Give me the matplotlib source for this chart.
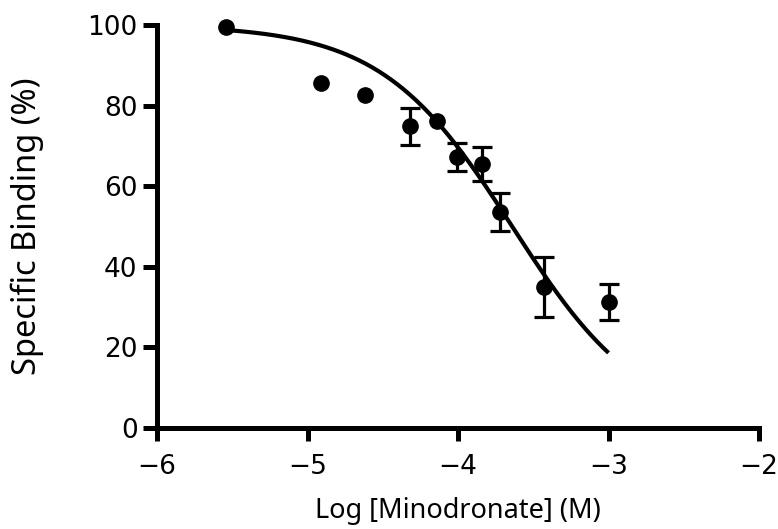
import numpy as np
import matplotlib
matplotlib.use("Agg")
import matplotlib.pyplot as plt

# Competition binding data: log concentration vs. specific binding
log_conc = [-5.54, -4.91, -4.62, -4.32, -4.14, -4.01, -3.84, -3.72, -3.43, -3.0]
binding = [99.5, 85.6, 82.6, 74.9, 76.2, 67.2, 65.5, 53.5, 35.0, 31.3]
sem = [0.0, 0.0, 0.0, 4.6, 0.0, 3.5, 4.2, 4.7, 7.5, 4.4]

# One-site competition fit parameters
fit_top = 100.0
fit_bottom = 0.0
fit_log_ic50 = -3.64
fit_hill = 1.0
fit_range = (-5.54, -3.0)

x_ticks = [-6, -5, -4, -3, -2]
x_tick_labels = ['\u22126', '\u22125', '\u22124', '\u22123', '\u22122']
y_ticks = [0, 20, 40, 60, 80, 100]

plt.rcParams['font.family'] = ['DejaVu Sans']
label_font = ['Noto Sans', 'DejaVu Sans']

fig = plt.figure(figsize=(7.78, 5.29), dpi=100)
ax = fig.add_axes([0.2018, 0.191, 0.7738, 0.7617])

xf = np.linspace(fit_range[0], fit_range[1], 300)
yf = fit_bottom + (fit_top - fit_bottom) / (1 + 10 ** ((xf - fit_log_ic50) * fit_hill))
ax.plot(xf, yf, color='black', lw=3.0, solid_capstyle='butt', zorder=2)

# error bars only where a spread was measured
ex = [x for x, s in zip(log_conc, sem) if s > 0]
ey = [y for y, s in zip(binding, sem) if s > 0]
es = [s for s in sem if s > 0]
ax.errorbar(ex, ey, yerr=es, fmt='none', ecolor='black',
            elinewidth=2.3, capsize=7, capthick=2.3, zorder=3)
ax.plot(log_conc, binding, 'o', color='black', ms=11, zorder=4)

ax.set_xlim(-6, -2)
ax.set_ylim(0, 100)
ax.set_xticks(x_ticks)
ax.set_xticklabels(x_tick_labels)
ax.set_yticks(y_ticks)

for side in ('top', 'right'):
    ax.spines[side].set_visible(False)
for side in ('left', 'bottom'):
    ax.spines[side].set_linewidth(3.6)
    ax.spines[side].set_capstyle('projecting')

ax.tick_params(axis='both', direction='out', width=3.6, labelsize=19, color='black')
ax.tick_params(axis='x', length=9, pad=10)
ax.tick_params(axis='y', length=10, pad=4)

ax.set_xlabel('Log [Minodronate] (M)', fontsize=19.5, family=label_font)
ax.xaxis.set_label_coords(0.5, -0.172)
ax.set_ylabel('Specific Binding (%)', fontsize=23.5, family=label_font, labelpad=31)

for a in ax.get_children():
    try:
        a.set_clip_on(False)
    except Exception:
        pass

fig.savefig('out.png', dpi=100)
